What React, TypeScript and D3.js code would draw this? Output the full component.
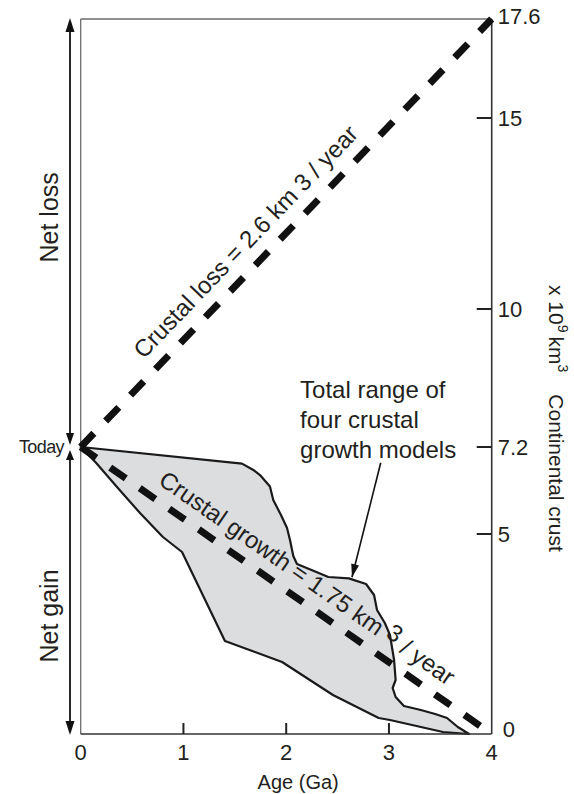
import React from "react";
import * as d3 from "d3";

// axis ticks
const ageTicks = [0, 1, 2, 3, 4];
const crustTicks = [0, 5, 7.2, 10, 15, 17.6];

// reference lines (age in Ga, crust volume in 10^9 km3)
const lossAge = [0, 4];
const lossCrust = [7.2, 17.6];
const growthAge = [0, 4];
const growthCrust = [7.2, 0];

// envelope of four growth models: upper edge then lower edge back to today
const upperAge = [0, 1.57, 1.68, 1.745, 1.842, 1.874, 1.949, 2.008, 2.037, 2.069, 2.105, 2.27, 2.41, 2.61, 2.777, 2.855, 2.884, 2.96, 3.01, 3.05, 3.065, 3.036, 3.065, 3.146, 3.31, 3.45, 3.565, 3.67, 3.78];
const upperCrust = [7.2, 6.78, 6.62, 6.49, 6.2, 5.86, 5.48, 5.15, 4.85, 4.45, 4.25, 4.075, 3.925, 3.89, 3.75, 3.475, 3.1, 2.775, 2.475, 1.85, 1.35, 1.15, 0.925, 0.7, 0.6, 0.5, 0.4, 0.175, 0];
const lowerAge = [3.526, 3.01, 2.9, 2.455, 1.96, 1.404, 0.986, 0.8, 0.577, 0.353, 0.149];
const lowerCrust = [0.05, 0.35, 0.4, 0.975, 1.8, 2.325, 4.55, 4.925, 5.53, 6.19, 6.8];

const noteLines = ["Total range of", "four crustal", "growth models"];
const noteAge = 2.135;
const noteCrust = 8.19;
const arrowAge = [2.92, 2.64];
const arrowCrust = [6.8, 3.92];

const W = 574;
const H = 794;
const FONT = "'Liberation Sans', Arial, Helvetica, sans-serif";
const INK = "#231f20";

const x = d3.scaleLinear().domain([0, 4]).range([80.7, 491.7]);
const y = d3.scaleLinear().domain(crustTicks).range([734, 534, 447, 309, 118, 19]);

const head = (tx: number, ty: number, dx: number, dy: number, len: number, wid: number) => {
  const n = Math.hypot(dx, dy);
  const ux = dx / n, uy = dy / n;
  const bx = tx - ux * len, by = ty - uy * len;
  return `M${tx},${ty}L${bx - uy * wid / 2},${by + ux * wid / 2}L${bx + uy * wid / 2},${by - ux * wid / 2}Z`;
};

const lineLabel = (ages: number[], vols: number[], t: number, off: number) => {
  const x0 = x(ages[0]), y0 = y(vols[0]), x1 = x(ages[1]), y1 = y(vols[1]);
  const px = x0 + (x1 - x0) * t, py = y0 + (y1 - y0) * t;
  const ang = (Math.atan2(y1 - y0, x1 - x0) * 180) / Math.PI;
  return `translate(${px},${py}) rotate(${ang}) translate(0,${-off})`;
};

export default function App() {
  const line = d3.line<[number, number]>().x((d) => x(d[0])).y((d) => y(d[1]));
  const envelope: [number, number][] = [
    ...upperAge.map((a, i) => [a, upperCrust[i]] as [number, number]),
    ...lowerAge.map((a, i) => [a, lowerCrust[i]] as [number, number]),
  ];
  const envPath = line(envelope) + "Z";
  const lossPath = line(lossAge.map((a, i) => [a, lossCrust[i]]));
  const growthPath = line(growthAge.map((a, i) => [a, growthCrust[i]]));

  const left = x(0), right = x(4), top = y(17.6), bottom = y(0);
  const ax = left - 10.7;
  const today = y(7.2);

  return (
    <svg width={W} height={H} style={{ position: "absolute", left: 0, top: 0, background: "#fff" }} fontFamily={FONT}>
      <rect width={W} height={H} fill="#fff" />
      {/* envelope */}
      <path d={envPath} fill="#dcdddf" stroke="#1a1a1a" strokeWidth={2.2} strokeLinejoin="round" />

      {/* frame */}
      <line x1={left} x2={right} y1={top} y2={top} stroke="#6d6d6d" strokeWidth={1.3} />
      <line x1={left} x2={left} y1={top} y2={bottom} stroke="#6d6d6d" strokeWidth={1.3} />
      <line x1={right} x2={right} y1={top} y2={bottom} stroke="#333" strokeWidth={1.6} />
      <line x1={left} x2={right} y1={bottom} y2={bottom} stroke="#333" strokeWidth={1.6} />

      {/* dashed rate lines */}
      <path d={lossPath ?? ""} fill="none" stroke="#111" strokeWidth={7} strokeDasharray="19 17" />
      <path d={growthPath ?? ""} fill="none" stroke="#111" strokeWidth={7} strokeDasharray="19 17" />

      {/* x ticks */}
      {ageTicks.map((t) => (
        <g key={"xt" + t}>
          {t > 0 && t < 4 && <line x1={x(t)} x2={x(t)} y1={bottom} y2={bottom - 11} stroke="#222" strokeWidth={2} />}
          <text x={x(t)} y={bottom + 26} textAnchor="middle" fontSize={22} fill={INK}>{t}</text>
        </g>
      ))}
      <text x={(left + right) / 2 + 12} y={bottom + 55} textAnchor="middle" fontSize={20} fill={INK}>Age (Ga)</text>

      {/* right ticks */}
      {crustTicks.map((t, i) => {
        const edge = i === 0 ? -5 : i === crustTicks.length - 1 ? -3 : 0;
        return (
          <g key={"yt" + t}>
            {i > 0 && i < crustTicks.length - 1 && <line x1={right - 15} x2={right} y1={y(t)} y2={y(t)} stroke="#222" strokeWidth={2} />}
            <text x={right + (i === 0 ? 11 : 6)} y={y(t) + edge} dy="0.36em" fontSize={22} fill={INK}>{t}</text>
          </g>
        );
      })}

      {/* right axis title */}
      <text transform={`translate(${right + 57},285) rotate(90)`} fontSize={21} fill={INK}>
        x 10<tspan dy={-9} fontSize={14}>9</tspan>
        <tspan dy={9} dx={4}>km</tspan>
        <tspan dy={-9} fontSize={14}>3</tspan>
        <tspan dy={9} dx={22}>Continental crust</tspan>
      </text>

      {/* left arrows */}
      <line x1={ax} x2={ax} y1={top + 10} y2={today - 10} stroke="#111" strokeWidth={1.8} />
      <path d={head(ax, top - 1, 0, -1, 14, 9)} fill="#111" />
      <path d={head(ax, today - 2, 0, 1, 12, 8)} fill="#111" />
      <line x1={ax} x2={ax} y1={today + 10} y2={bottom - 10} stroke="#111" strokeWidth={1.8} />
      <path d={head(ax, today + 3, 0, -1, 10, 8)} fill="#111" />
      <path d={head(ax, bottom + 1, 0, 1, 14, 9)} fill="#111" />

      <text transform={`translate(58,${y(12.4)}) rotate(-90)`} textAnchor="middle" fontSize={25} fill={INK}>Net loss</text>
      <text transform={`translate(58,${y(2.95)}) rotate(-90)`} textAnchor="middle" fontSize={25} fill={INK}>Net gain</text>
      <text x={ax - 6} y={today} dy="0.35em" textAnchor="end" fontSize={18} letterSpacing={-0.6} fill={INK}>Today</text>

      {/* line labels */}
      <text transform={lineLabel(lossAge, lossCrust, 0.442, 15)} textAnchor="middle" fontSize={24} fill={INK}>
        Crustal loss = 2.6 km 3 / year
      </text>
      <text transform={lineLabel(growthAge, growthCrust, 0.52, 14)} textAnchor="middle" fontSize={24} fill={INK}>
        Crustal growth = 1.75 km<tspan dy={-5}> 3</tspan><tspan dy={5}> / year</tspan>
      </text>

      {/* annotation */}
      {noteLines.map((s, i) => (
        <text key={s} x={x(noteAge)} y={y(noteCrust) + i * 30} fontSize={24} fill={INK}>{s}</text>
      ))}
      <line x1={x(arrowAge[0])} y1={y(arrowCrust[0])} x2={x(arrowAge[1])} y2={y(arrowCrust[1])} stroke="#111" strokeWidth={1.6} />
      <path
        d={head(x(arrowAge[1]), y(arrowCrust[1]), x(arrowAge[1]) - x(arrowAge[0]), y(arrowCrust[1]) - y(arrowCrust[0]), 13, 8)}
        fill="#111"
      />
    </svg>
  );
}
